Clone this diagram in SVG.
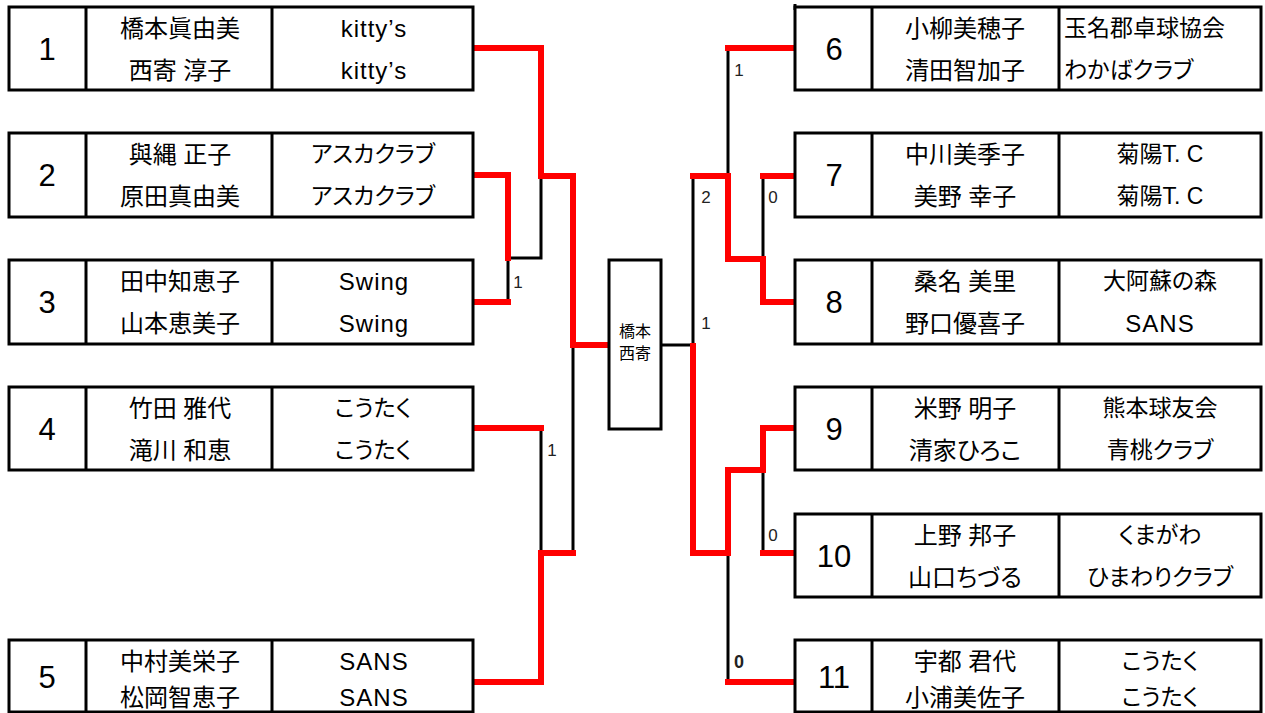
<svg xmlns="http://www.w3.org/2000/svg" width="1265" height="713" viewBox="0 0 1265 713">
<style>
.box{fill:#fff;stroke:#000;stroke-width:3}
.div{stroke:#000;stroke-width:3}
text{font-family:"Liberation Sans","Noto Sans CJK JP",sans-serif;fill:#000;dominant-baseline:central;text-anchor:middle;font-feature-settings:"palt"}
.num{font-size:31px}
.nm{font-size:24px}
.tm{font-size:23px}
.lt{font-size:24px;letter-spacing:1px}
.sc{font-size:17px;fill:#222}
.ctr{font-size:16px}
.red{fill:none;stroke:#f00;stroke-width:6;stroke-linejoin:miter;stroke-linecap:square}
.blk{fill:none;stroke:#000;stroke-width:3;stroke-linecap:square}
</style>
<rect width="1265" height="713" fill="#fff"/>
<g id="connectors">
<polyline class="blk" points="508,258 508,302"/>
<polyline class="blk" points="508,258 541,258 541,176"/>
<polyline class="blk" points="541,428 541,553"/>
<polyline class="blk" points="573,553 573,345"/>
<polyline class="blk" points="661,345 693,345 693,176"/>
<polyline class="blk" points="728,176 728,48"/>
<polyline class="blk" points="763,176 763,259"/>
<polyline class="blk" points="763,470 763,553"/>
<polyline class="blk" points="728,553 728,682"/>
<polyline class="red" points="475,48 541,48 541,176 573,176 573,345 606,345"/>
<polyline class="red" points="475,175 508,175 508,258"/>
<polyline class="red" points="475,302 508,302"/>
<polyline class="red" points="475,428 541,428"/>
<polyline class="red" points="475,682 541,682 541,553 573,553"/>
<polyline class="red" points="693,346 693,553 728,553 728,470 763,470 763,428 793,428"/>
<polyline class="red" points="693,176 728,176 728,259 763,259 763,302 793,302"/>
<polyline class="red" points="728,48 793,48"/>
<polyline class="red" points="763,176 793,176"/>
<polyline class="red" points="763,553 793,553"/>
<polyline class="red" points="728,682 793,682"/>
<text class="sc" x="518" y="282">1</text>
<text class="sc" x="552" y="450">1</text>
<text class="sc" x="739" y="70">1</text>
<text class="sc" x="706" y="197">2</text>
<text class="sc" x="773" y="197">0</text>
<text class="sc" x="706" y="323">1</text>
<text class="sc" x="773" y="535">0</text>
<text class="sc" x="739" y="662" style="font-weight:bold;font-size:18px">0</text>
</g>
<g id="center">
<rect class="box" x="609" y="260" width="52" height="169"/>
<text class="ctr" x="635" y="331">橋本</text>
<text class="ctr" x="635" y="353">西寄</text>
</g>
<g id="n1">
<rect class="box" x="9" y="7" width="464" height="83"/>
<line class="div" x1="86" y1="7" x2="86" y2="90"/><line class="div" x1="272" y1="7" x2="272" y2="90"/>
<text class="num" x="47" y="49">1</text>
<text class="nm" x="180" y="28">橋本眞由美</text><text class="nm" x="180" y="70">西寄 淳子</text>
<text class="lt" x="374" y="28">kitty’s</text><text class="lt" x="374" y="70">kitty’s</text>
</g>
<g id="n2">
<rect class="box" x="9" y="133" width="464" height="84"/>
<line class="div" x1="86" y1="133" x2="86" y2="217"/><line class="div" x1="272" y1="133" x2="272" y2="217"/>
<text class="num" x="47" y="175">2</text>
<text class="nm" x="180" y="154">與縄 正子</text><text class="nm" x="180" y="196">原田真由美</text>
<text class="tm" x="373" y="154">アスカクラブ</text><text class="tm" x="373" y="196">アスカクラブ</text>
</g>
<g id="n3">
<rect class="box" x="9" y="260" width="464" height="84"/>
<line class="div" x1="86" y1="260" x2="86" y2="344"/><line class="div" x1="272" y1="260" x2="272" y2="344"/>
<text class="num" x="47" y="302">3</text>
<text class="nm" x="180" y="281">田中知恵子</text><text class="nm" x="180" y="323">山本恵美子</text>
<text class="lt" x="374" y="281">Swing</text><text class="lt" x="374" y="323">Swing</text>
</g>
<g id="n4">
<rect class="box" x="9" y="387" width="464" height="83"/>
<line class="div" x1="86" y1="387" x2="86" y2="470"/><line class="div" x1="272" y1="387" x2="272" y2="470"/>
<text class="num" x="47" y="429">4</text>
<text class="nm" x="180" y="408">竹田 雅代</text><text class="nm" x="180" y="450">滝川 和恵</text>
<text class="tm" x="373" y="408">こうたく</text><text class="tm" x="373" y="450">こうたく</text>
</g>
<g id="n5">
<rect class="box" x="9" y="640" width="464" height="72"/>
<line class="div" x1="86" y1="640" x2="86" y2="712"/><line class="div" x1="272" y1="640" x2="272" y2="712"/>
<text class="num" x="47" y="677">5</text>
<text class="nm" x="180" y="661">中村美栄子</text><text class="nm" x="180" y="697">松岡智恵子</text>
<text class="lt" x="374" y="661">SANS</text><text class="lt" x="374" y="697">SANS</text>
</g>
<g id="n6">
<line class="div" x1="795" y1="4" x2="795" y2="10"/>
<rect class="box" x="795" y="7" width="466" height="83"/>
<line class="div" x1="872" y1="7" x2="872" y2="90"/><line class="div" x1="1059" y1="7" x2="1059" y2="90"/>
<text class="num" x="834" y="49">6</text>
<text class="nm" x="965" y="28">小柳美穂子</text><text class="nm" x="965" y="70">清田智加子</text>
<text class="tm" x="1064" y="28" style="text-anchor:start">玉名郡卓球協会</text><text class="tm" x="1064" y="70" style="text-anchor:start">わかばクラブ</text>
</g>
<g id="n7">
<rect class="box" x="795" y="133" width="466" height="84"/>
<line class="div" x1="872" y1="133" x2="872" y2="217"/><line class="div" x1="1059" y1="133" x2="1059" y2="217"/>
<text class="num" x="834" y="175">7</text>
<text class="nm" x="965" y="154">中川美季子</text><text class="nm" x="965" y="196">美野 幸子</text>
<text class="tm" x="1160" y="154">菊陽T. C</text><text class="tm" x="1160" y="196">菊陽T. C</text>
</g>
<g id="n8">
<rect class="box" x="795" y="260" width="466" height="84"/>
<line class="div" x1="872" y1="260" x2="872" y2="344"/><line class="div" x1="1059" y1="260" x2="1059" y2="344"/>
<text class="num" x="834" y="302">8</text>
<text class="nm" x="965" y="281">桑名 美里</text><text class="nm" x="965" y="323">野口優喜子</text>
<text class="tm" x="1160" y="281">大阿蘇の森</text><text class="lt" x="1160" y="323">SANS</text>
</g>
<g id="n9">
<rect class="box" x="795" y="387" width="466" height="83"/>
<line class="div" x1="872" y1="387" x2="872" y2="470"/><line class="div" x1="1059" y1="387" x2="1059" y2="470"/>
<text class="num" x="834" y="429">9</text>
<text class="nm" x="965" y="408">米野 明子</text><text class="nm" x="965" y="450">清家ひろこ</text>
<text class="tm" x="1160" y="408">熊本球友会</text><text class="tm" x="1160" y="450">青桃クラブ</text>
</g>
<g id="n10">
<rect class="box" x="795" y="514" width="466" height="83"/>
<line class="div" x1="872" y1="514" x2="872" y2="597"/><line class="div" x1="1059" y1="514" x2="1059" y2="597"/>
<text class="num" x="834" y="556">10</text>
<text class="nm" x="965" y="535">上野 邦子</text><text class="nm" x="965" y="577">山口ちづる</text>
<text class="tm" x="1160" y="535">くまがわ</text><text class="tm" x="1160" y="577">ひまわりクラブ</text>
</g>
<g id="n11">
<rect class="box" x="795" y="640" width="466" height="72"/>
<line class="div" x1="872" y1="640" x2="872" y2="712"/><line class="div" x1="1059" y1="640" x2="1059" y2="712"/>
<text class="num" x="834" y="677">11</text>
<text class="nm" x="965" y="661">宇都 君代</text><text class="nm" x="965" y="697">小浦美佐子</text>
<text class="tm" x="1160" y="661">こうたく</text><text class="tm" x="1160" y="697">こうたく</text>
</g>
</svg>
